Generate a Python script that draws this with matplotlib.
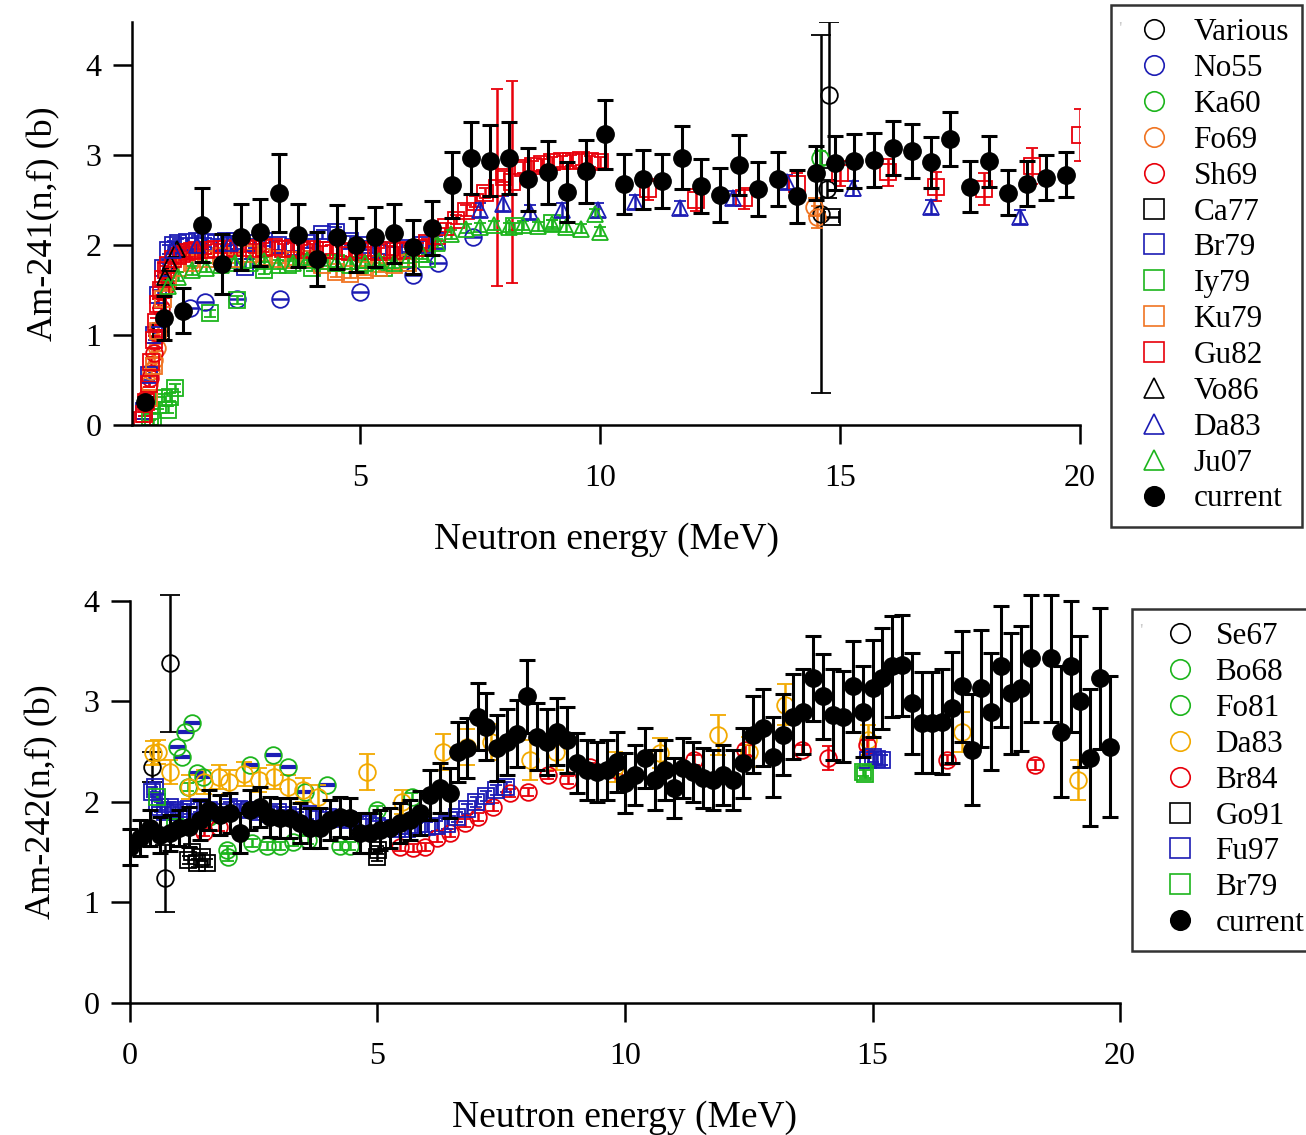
import matplotlib
matplotlib.use("Agg")
import matplotlib.pyplot as plt
from matplotlib.lines import Line2D

plt.rcParams['font.family'] = ['Liberation Serif', 'DejaVu Serif']

RED = '#e8000b'
BLUE = '#1c1cb4'
GREEN = '#1db51d'
ORANGE = '#f07422'
GOLD = '#f2a900'
BLACK = 'black'

# ---------------- Am-241(n,f) ----------------
# current measurement
cur241_e = [0.52, 0.92, 1.31, 1.71, 2.12, 2.52, 2.92, 3.31, 3.71, 4.10, 4.52, 4.92,
            5.31, 5.71, 6.10, 6.50, 6.92, 7.31, 7.71, 8.10, 8.50, 8.92, 9.31, 9.71,
            10.10, 10.50, 10.90, 11.29, 11.71, 12.10, 12.50, 12.90, 13.29, 13.71,
            14.10, 14.50, 14.90, 15.30, 15.70, 16.10, 16.50, 16.90, 17.30, 17.70,
            18.10, 18.50, 18.90, 19.30, 19.70]
cur241_xs = [0.26, 1.19, 1.27, 2.22, 1.79, 2.09, 2.14, 2.58, 2.11, 1.84, 2.09, 2.00,
             2.09, 2.13, 1.98, 2.19, 2.67, 2.97, 2.94, 2.97, 2.73, 2.81, 2.59, 2.82,
             3.23, 2.68, 2.73, 2.71, 2.97, 2.66, 2.56, 2.89, 2.62, 2.73,
             2.54, 2.80, 2.91, 2.93, 2.95, 3.08, 3.05, 2.92, 3.18, 2.65,
             2.93, 2.58, 2.68, 2.75, 2.78]
cur241_err = [0.05, 0.24, 0.25, 0.41, 0.33, 0.37, 0.37, 0.43, 0.35, 0.30, 0.36, 0.30,
              0.33, 0.33, 0.30, 0.30, 0.37, 0.40, 0.40, 0.40, 0.35, 0.35, 0.33, 0.35,
              0.38, 0.33, 0.33, 0.30, 0.35, 0.30, 0.30, 0.33, 0.30, 0.30,
              0.30, 0.30, 0.30, 0.30, 0.30, 0.30, 0.30, 0.28, 0.30, 0.28,
              0.28, 0.25, 0.25, 0.25, 0.25]

various_e = [14.60, 14.72, 14.77]
various_xs = [2.35, 2.62, 3.67]
various_err = [1.99, 0.10, 0.81]

no55_e = [1.46, 1.77, 2.43, 3.33, 5.00, 6.10, 6.63, 7.35]
no55_xs = [1.30, 1.37, 1.40, 1.40, 1.48, 1.67, 1.80, 2.09]

ka60_e = [14.58]
ka60_xs = [2.97]

fo69_e = [0.60, 0.65, 0.70, 0.76, 14.45, 14.52]
fo69_xs = [0.45, 0.60, 0.72, 0.86, 2.42, 2.31]
fo69_err = [0.03, 0.03, 0.03, 0.04, 0.10, 0.12]

sh69_e = [0.55, 0.62, 0.70, 0.78, 0.86, 0.95]
sh69_xs = [0.30, 0.52, 0.80, 1.02, 1.30, 1.55]

ca77_e = [0.85, 14.83]
ca77_xs = [1.05, 2.31]

br79a_e = [0.50, 0.60, 0.70, 0.80, 0.90, 1.00, 1.10, 1.20, 1.40, 1.60, 1.80, 2.00, 2.20,
           2.40, 2.60, 2.80, 3.00, 3.30, 3.60, 3.90, 4.20, 4.50, 4.80, 5.10, 5.40, 5.70,
           6.00, 6.30, 6.60]
br79a_xs = [0.15, 0.55, 1.00, 1.45, 1.75, 1.95, 2.00, 2.02, 2.03, 2.05, 2.03, 2.02, 2.04,
            2.05, 1.76, 2.02, 2.04, 2.00, 1.98, 2.02, 2.12, 2.15, 2.05, 2.00, 1.95, 1.93,
            1.97, 2.00, 2.05]

iy79_e = [0.62, 0.69, 0.80, 0.92, 1.00, 1.04, 1.15, 1.88, 2.43, 3.00, 3.50, 4.00, 4.50,
          5.00, 5.50, 6.00, 6.40, 8.20, 9.00]
iy79_xs = [0.09, 0.03, 0.22, 0.30, 0.17, 0.31, 0.41, 1.24, 1.39, 1.72, 1.78, 1.75, 1.80,
           1.78, 1.75, 1.80, 1.85, 2.21, 2.24]

ku79_e = [0.60, 0.70, 0.80, 0.90, 1.00, 1.20, 1.50, 1.80, 2.10, 2.40, 2.70, 3.00, 3.30,
          3.60, 3.90, 4.20, 4.50, 4.80, 5.10, 5.40, 5.70, 6.00]
ku79_xs = [0.30, 0.65, 1.05, 1.40, 1.60, 1.75, 1.80, 1.85, 1.88, 1.85, 1.90, 1.87, 1.85,
           1.83, 1.85, 1.78, 1.70, 1.68, 1.72, 1.75, 1.78, 1.80]

gu82_e = [0.45, 0.50, 0.55, 0.60, 0.65, 0.70, 0.75, 0.80, 0.85, 0.90, 0.95, 1.00, 1.10,
          1.20, 1.30, 1.40, 1.50, 1.60, 1.80, 2.00, 2.20, 2.40, 2.60, 2.80, 3.00, 3.20,
          3.40, 3.60, 3.80, 4.00, 4.20, 4.40, 4.60, 4.80, 5.00, 5.20, 5.40, 5.60, 5.80,
          6.00, 6.20, 6.40, 6.60, 6.80, 7.00, 7.20, 7.40, 7.60, 7.85, 8.00, 8.17, 8.40,
          8.60, 8.80, 9.00, 9.20, 9.40, 9.60, 9.80, 10.00, 11.00, 12.00, 13.00, 14.10,
          15.00, 16.00, 17.00, 18.00, 19.00, 20.00]
gu82_xs = [0.05, 0.12, 0.25, 0.45, 0.70, 0.95, 1.15, 1.35, 1.50, 1.62, 1.72, 1.78, 1.85,
           1.88, 1.90, 1.92, 1.93, 1.94, 1.95, 1.96, 1.96, 1.97, 1.97, 1.96, 1.97, 1.98,
           1.96, 1.97, 1.95, 1.96, 1.94, 1.95, 1.93, 1.92, 1.94, 1.93, 1.92, 1.94, 1.93,
           1.95, 1.97, 2.02, 2.10, 2.20, 2.28, 2.38, 2.48, 2.58, 2.64, 2.76, 2.70, 2.86,
           2.88, 2.90, 2.92, 2.93, 2.94, 2.95, 2.93, 2.92, 2.62, 2.50, 2.52, 2.68,
           2.80, 2.81, 2.65, 2.62, 2.88, 3.22]
gu82_err = [0.02, 0.02, 0.03, 0.03, 0.04, 0.04, 0.04, 0.05, 0.05, 0.05, 0.05, 0.05, 0.05,
            0.05, 0.05, 0.05, 0.05, 0.05, 0.05, 0.05, 0.05, 0.05, 0.05, 0.05, 0.05, 0.05,
            0.05, 0.05, 0.05, 0.05, 0.05, 0.05, 0.05, 0.05, 0.05, 0.05, 0.05, 0.05, 0.05,
            0.05, 0.05, 0.05, 0.05, 0.05, 0.05, 0.06, 0.06, 0.06, 1.10, 0.06, 1.12, 0.06,
            0.06, 0.06, 0.06, 0.06, 0.06, 0.06, 0.06, 0.06, 0.12, 0.12, 0.12, 0.12,
            0.14, 0.15, 0.16, 0.18, 0.20, 0.29]

vo86_e = [0.94, 1.05, 1.19]
vo86_xs = [1.64, 1.80, 1.96]

da83a_e = [1.10, 1.60, 2.30, 7.50, 7.98, 8.54, 9.20, 9.96, 10.73, 11.67, 12.77, 13.90,
           15.27, 16.90, 18.75]
da83a_xs = [1.95, 2.00, 2.02, 2.39, 2.46, 2.37, 2.39, 2.39, 2.48, 2.41, 2.52, 2.70,
            2.63, 2.42, 2.31]

ju07_e = [1.00, 1.20, 1.50, 1.80, 2.10, 2.40, 2.70, 3.00, 3.30, 3.60, 3.90, 4.20, 4.50,
          4.80, 5.10, 5.40, 5.70, 6.00, 6.30, 6.60, 6.90, 7.20, 7.50, 7.80, 8.10, 8.40,
          8.70, 9.00, 9.30, 9.60, 9.90, 10.00]
ju07_xs = [1.55, 1.65, 1.72, 1.75, 1.78, 1.80, 1.80, 1.82, 1.78, 1.80, 1.83, 1.82, 1.80,
           1.78, 1.80, 1.82, 1.80, 1.85, 1.90, 2.02, 2.12, 2.18, 2.20, 2.22, 2.20, 2.22,
           2.21, 2.23, 2.20, 2.18, 2.35, 2.15]

# ---------------- Am-242(n,f) ----------------
cur242_e = [0.00, 0.20, 0.40, 0.60, 0.80, 1.00, 1.20, 1.41, 1.60, 1.82, 2.02, 2.22,
            2.42, 2.63, 2.83, 3.03, 3.23, 3.43, 3.64, 3.84, 4.04, 4.24, 4.44, 4.65,
            4.85, 5.05, 5.25, 5.45, 5.66, 5.86, 6.06, 6.26, 6.46, 6.63, 6.80, 7.03,
            7.20, 7.41, 7.62, 7.82, 8.02, 8.22, 8.42, 8.63, 8.83, 9.03, 9.23, 9.43,
            9.63, 9.84, 10.00, 10.20, 10.40, 10.60, 10.80, 11.00, 11.17, 11.37, 11.58,
            11.78, 11.98, 12.18, 12.38, 12.59, 12.79, 12.99, 13.19, 13.39, 13.60, 13.80,
            14.00, 14.20, 14.40, 14.60, 14.80, 15.00, 15.20, 15.40, 15.60, 15.80, 16.00,
            16.20, 16.40, 16.60, 16.80, 17.00, 17.20, 17.40, 17.60, 17.80, 18.00, 18.20,
            18.60, 18.80, 19.00, 19.20, 19.40, 19.60, 19.80]
cur242_xs = [1.55, 1.64, 1.74, 1.67, 1.69, 1.74, 1.75, 1.82, 1.92, 1.87, 1.89, 1.69,
             1.92, 1.95, 1.85, 1.84, 1.84, 1.79, 1.74, 1.74, 1.82, 1.85, 1.84, 1.69,
             1.69, 1.72, 1.74, 1.79, 1.82, 1.89, 2.07, 2.14, 2.09, 2.50, 2.54, 2.85,
             2.75, 2.54, 2.60, 2.68, 3.05, 2.65, 2.60, 2.70, 2.62, 2.39, 2.32, 2.30,
             2.32, 2.40, 2.19, 2.27, 2.44, 2.22, 2.32, 2.14, 2.34, 2.30, 2.24,
             2.22, 2.27, 2.22, 2.39, 2.67, 2.74, 2.45, 2.67, 2.85, 2.90, 3.23,
             3.05, 2.87, 2.85, 3.15, 2.90, 3.13, 3.23, 3.35, 3.36, 2.98, 2.79,
             2.79, 2.80, 2.94, 3.15, 2.52, 3.13, 2.90, 3.35, 3.08, 3.13, 3.43,
             3.43, 2.70, 3.35, 3.00, 2.44, 3.23, 2.55]
cur242_err = [0.18, 0.18, 0.18, 0.18, 0.18, 0.18, 0.20, 0.20, 0.20, 0.20, 0.20, 0.20,
              0.20, 0.20, 0.20, 0.20, 0.20, 0.20, 0.20, 0.20, 0.20, 0.20, 0.20, 0.20,
              0.20, 0.20, 0.20, 0.20, 0.20, 0.22, 0.25, 0.25, 0.25, 0.30, 0.30, 0.33,
              0.33, 0.33, 0.33, 0.33, 0.36, 0.33, 0.33, 0.33, 0.33, 0.30, 0.30, 0.30,
              0.30, 0.30, 0.30, 0.30, 0.30, 0.30, 0.30, 0.30, 0.30, 0.30, 0.30,
              0.30, 0.30, 0.30, 0.35, 0.38, 0.38, 0.40, 0.40, 0.42, 0.42, 0.42,
              0.42, 0.45, 0.45, 0.45, 0.45, 0.48, 0.50, 0.50, 0.50, 0.50, 0.50,
              0.50, 0.52, 0.55, 0.55, 0.55, 0.58, 0.58, 0.60, 0.60, 0.62, 0.63,
              0.63, 0.65, 0.65, 0.65, 0.68, 0.70, 0.70]

se67_e = [0.45, 0.71, 0.81]
se67_xs = [2.35, 1.24, 3.38]
se67_err = [0.15, 0.33, 0.68]

bo68_e = [0.95, 1.05, 1.11, 1.25, 1.35, 1.48, 2.42, 2.89, 3.19, 3.54, 3.98]
bo68_xs = [2.55, 2.45, 2.70, 2.79, 2.29, 2.25, 2.37, 2.47, 2.35, 2.10, 2.17]

fo81_e = [1.18, 1.60, 1.96, 1.98, 2.46, 2.76, 3.03, 3.30, 3.60, 4.24, 4.44, 4.99, 5.70]
fo81_xs = [2.15, 1.85, 1.52, 1.45, 1.59, 1.56, 1.56, 1.60, 1.62, 1.56, 1.56, 1.92, 2.05]

da83b_e = [0.47, 0.57, 0.80, 1.20, 1.50, 1.80, 2.00, 2.30, 2.60, 2.90, 3.20, 3.50,
           3.80, 4.78, 5.50, 6.32, 6.80, 7.30, 8.08, 8.60, 9.80, 10.70, 11.88, 12.50,
           13.23, 14.90, 16.80, 19.15]
da83b_xs = [2.49, 2.50, 2.30, 2.15, 2.20, 2.25, 2.20, 2.28, 2.22, 2.25, 2.15, 2.12,
            2.05, 2.30, 2.00, 2.50, 2.55, 2.60, 2.42, 2.50, 2.35, 2.49, 2.67, 2.50,
            2.97, 2.62, 2.70, 2.22]
da83b_err = [0.12, 0.12, 0.12, 0.12, 0.12, 0.12, 0.12, 0.12, 0.12, 0.12, 0.12, 0.12,
             0.12, 0.18, 0.12, 0.18, 0.18, 0.18, 0.20, 0.18, 0.15, 0.15, 0.20, 0.15,
             0.20, 0.15, 0.20, 0.20]

br84_e = [1.50, 1.80, 5.45, 5.72, 5.96, 6.20, 6.46, 6.77, 7.03, 7.33, 7.68, 8.04,
          8.45, 8.85, 9.30, 9.84, 11.40, 12.42, 13.57, 14.10, 14.88, 16.50, 18.28]
br84_xs = [1.70, 1.75, 1.55, 1.54, 1.55, 1.64, 1.69, 1.79, 1.85, 1.95, 2.09, 2.10,
           2.27, 2.22, 2.35, 2.32, 2.42, 2.52, 2.52, 2.44, 2.57, 2.42, 2.37]
br84_err = [0.04, 0.04, 0.04, 0.04, 0.04, 0.04, 0.04, 0.04, 0.04, 0.04, 0.04, 0.04,
            0.04, 0.04, 0.04, 0.04, 0.05, 0.05, 0.05, 0.12, 0.05, 0.05, 0.05]

go91_e = [1.18, 1.25, 1.35, 1.45, 1.55, 4.99, 5.02]
go91_xs = [1.42, 1.50, 1.39, 1.45, 1.39, 1.45, 1.52]

fu97_e = [0.45, 0.50, 0.55, 0.60, 0.70, 0.80, 0.90, 1.00, 1.20, 1.40, 1.60, 1.80,
          2.00, 2.20, 2.40, 2.60, 2.80, 3.00, 3.20, 3.40, 3.60, 3.80, 4.00, 4.20,
          4.40, 4.60, 4.80, 5.00, 5.20, 5.40, 5.60, 5.80, 6.00, 6.20, 6.40, 6.60,
          6.80, 7.00, 7.20, 7.40, 7.60, 14.90, 15.00, 15.10, 15.20]
fu97_xs = [2.10, 2.15, 2.00, 1.95, 1.90, 1.95, 1.92, 1.90, 1.93, 1.95, 1.92, 1.90,
           1.95, 1.93, 1.92, 1.90, 1.88, 1.90, 1.87, 1.85, 1.88, 1.86, 1.85, 1.83,
           1.82, 1.80, 1.78, 1.76, 1.74, 1.73, 1.73, 1.74, 1.75, 1.76, 1.78, 1.85,
           1.93, 2.00, 2.06, 2.12, 2.15, 2.42, 2.45, 2.43, 2.42]

br79b_e = [0.55, 0.90, 14.80, 14.85]
br79b_xs = [2.05, 1.75, 2.30, 2.28]


def open_marks(ax, e, xs, color, marker, ms=12, yerr=None, xerr=None, capsize=4):
    c = ax.errorbar(e, xs, yerr=yerr, xerr=xerr, fmt=marker, mfc='none', mec=color,
                    ms=ms, mew=1.3, color=color, elinewidth=1.8, capsize=capsize,
                    capthick=1.8)
    return c


def current_marks(ax, e, xs, err):
    c = ax.errorbar(e, xs, yerr=err, fmt='o', color=BLACK, ms=12.5, elinewidth=2.2,
                    capsize=5.5, capthick=2.2, zorder=10)
    for art in c.lines[1] + c.lines[2]:
        art.set_clip_on(False)
    return c


def style_axes(ax):
    for side in ('top', 'right'):
        ax.spines[side].set_visible(False)
    for side in ('left', 'bottom'):
        ax.spines[side].set_linewidth(1.8)
    ax.tick_params(direction='out', length=14, width=1.8, labelsize=23, pad=8)
    ax.tick_params(axis='x', pad=14)


fig = plt.figure(figsize=(13.06, 11.35), dpi=100)
ax1 = fig.add_axes([0.1011, 0.6256, 0.7259, 0.355])
ax2 = fig.add_axes([0.0995, 0.1163, 0.7581, 0.3542])

# Am-241 panel
open_marks(ax1, various_e, various_xs, BLACK, 'o', yerr=various_err, capsize=7)
open_marks(ax1, no55_e, no55_xs, BLUE, 'o', xerr=0.17, capsize=0)
open_marks(ax1, ka60_e, ka60_xs, GREEN, 'o', yerr=0.08)
open_marks(ax1, fo69_e, fo69_xs, ORANGE, 'o', yerr=fo69_err)
open_marks(ax1, sh69_e, sh69_xs, RED, 'o', yerr=0.04)
open_marks(ax1, ca77_e, ca77_xs, BLACK, 's', ms=11, xerr=0.15)
open_marks(ax1, br79a_e, br79a_xs, BLUE, 's', ms=11, yerr=0.05)
open_marks(ax1, iy79_e, iy79_xs, GREEN, 's', ms=11, yerr=0.04)
open_marks(ax1, ku79_e, ku79_xs, ORANGE, 's', ms=11, yerr=0.05)
open_marks(ax1, gu82_e, gu82_xs, RED, 's', ms=11, yerr=gu82_err)
open_marks(ax1, vo86_e, vo86_xs, BLACK, '^', yerr=0.05)
open_marks(ax1, da83a_e, da83a_xs, BLUE, '^', yerr=0.08)
open_marks(ax1, ju07_e, ju07_xs, GREEN, '^', yerr=0.05)
current_marks(ax1, cur241_e, cur241_xs, cur241_err)

ax1.set_xlim(0.25, 20)
ax1.set_ylim(0, 4.48)
ax1.set_xticks([5, 10, 15, 20])
ax1.set_yticks([0, 1, 2, 3, 4])
style_axes(ax1)
ax1.set_xlabel('Neutron energy (MeV)', fontsize=27, labelpad=21)
ax1.set_ylabel('Am-241(n,f) (b)', fontsize=26, labelpad=18)

# Am-242 panel
open_marks(ax2, se67_e, se67_xs, BLACK, 'o', yerr=se67_err, capsize=7)
open_marks(ax2, bo68_e, bo68_xs, GREEN, 'o')
ax2.plot(bo68_e, bo68_xs, '_', color=BLUE, ms=11, mew=3)
open_marks(ax2, fo81_e, fo81_xs, GREEN, 'o', yerr=0.04)
open_marks(ax2, da83b_e, da83b_xs, GOLD, 'o', yerr=da83b_err, capsize=6)
open_marks(ax2, br84_e, br84_xs, RED, 'o', yerr=br84_err)
open_marks(ax2, go91_e, go91_xs, BLACK, 's', ms=11, yerr=0.04)
open_marks(ax2, fu97_e, fu97_xs, BLUE, 's', ms=11, yerr=0.05)
open_marks(ax2, br79b_e, br79b_xs, GREEN, 's', ms=11, yerr=0.04)
current_marks(ax2, cur242_e, cur242_xs, cur242_err)
for c in ax2.containers:
    for art in c.lines[1] + c.lines[2]:
        art.set_clip_on(False)

ax2.set_xlim(0, 20)
ax2.set_ylim(0, 4)
ax2.set_xticks([0, 5, 10, 15, 20])
ax2.set_yticks([0, 1, 2, 3, 4])
style_axes(ax2)
ax2.set_xlabel('Neutron energy (MeV)', fontsize=27, labelpad=21)
ax2.set_ylabel('Am-242(n,f) (b)', fontsize=26, labelpad=18)


def legend_handles(entries):
    hs = []
    for marker, color, filled in entries:
        hs.append(Line2D([], [], ls='none', marker=marker, ms=14, mew=1.2,
                         mec=color, mfc=color if filled else 'none'))
    return hs


top_labels = ['Various', 'No55', 'Ka60', 'Fo69', 'Sh69', 'Ca77', 'Br79', 'Iy79',
              'Ku79', 'Gu82', 'Vo86', 'Da83', 'Ju07', 'current']
top_styles = [('o', BLACK, False), ('o', BLUE, False), ('o', GREEN, False),
              ('o', ORANGE, False), ('o', RED, False), ('s', BLACK, False),
              ('s', BLUE, False), ('s', GREEN, False), ('s', ORANGE, False),
              ('s', RED, False), ('^', BLACK, False), ('^', BLUE, False),
              ('^', GREEN, False), ('o', BLACK, True)]
bot_labels = ['Se67', 'Bo68', 'Fo81', 'Da83', 'Br84', 'Go91', 'Fu97', 'Br79', 'current']
bot_styles = [('o', BLACK, False), ('o', GREEN, False), ('o', GREEN, False),
              ('o', GOLD, False), ('o', RED, False), ('s', BLACK, False),
              ('s', BLUE, False), ('s', GREEN, False), ('o', BLACK, True)]

legend_setups = (
    (top_labels, top_styles, (1111 / 1306, 1 - 5 / 1135), 1.94, 0.28),
    (bot_labels, bot_styles, (1132 / 1306, 1 - 609 / 1135), 2.2, 0.05),
)
for labels, styles, anchor, hlen, tpad in legend_setups:
    leg = fig.legend(legend_handles(styles), labels, loc='upper left',
                     bbox_to_anchor=anchor, borderaxespad=0, fontsize=22.5,
                     frameon=True, fancybox=False, edgecolor='black',
                     labelspacing=0.22, handlelength=hlen, handletextpad=tpad,
                     borderpad=0.42)
    leg.get_frame().set_linewidth(1.8)

fig.text(1120 / 1306, 1 - 30 / 1135, "'", fontsize=14, ha='center', va='center')
fig.text(1141 / 1306, 1 - 632 / 1135, "'", fontsize=14, ha='center', va='center')

fig.savefig('out.png', dpi=100)
